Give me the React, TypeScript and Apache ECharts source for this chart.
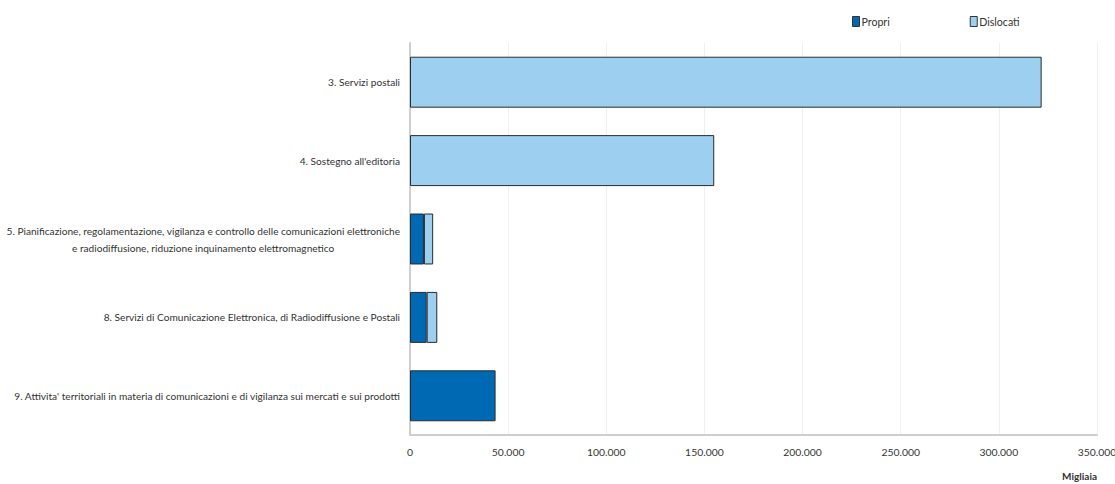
import React, { useEffect, useRef } from "react";
import * as echarts from "echarts";

const categories = [
  "3. Servizi postali",
  "4. Sostegno all'editoria",
  "5. Pianificazione, regolamentazione, vigilanza e controllo delle comunicazioni elettroniche\ne radiodiffusione, riduzione inquinamento elettromagnetico",
  "8. Servizi di Comunicazione Elettronica, di Radiodiffusione e Postali",
  "9. Attivita' territoriali in materia di comunicazioni e di vigilanza sui mercati e sui prodotti",
];
const propri = [0, 0, 7100, 8500, 43600];
const dislocati = [321800, 155000, 4700, 5400, 0];
const xTicks = { min: 0, max: 350000, interval: 50000 };

const FONT = "Lato, 'Liberation Sans', sans-serif";
const FS = 10.15;

function fmt(v: number) {
  return String(v).replace(/\B(?=(\d{3})+(?!\d))/g, ".");
}

export default function App() {
  const ref = useRef<HTMLDivElement>(null);
  useEffect(() => {
    if (!ref.current) return;
    const chart = echarts.init(ref.current, null, { renderer: "svg" });
    chart.setOption({
      animation: false,
      textStyle: { fontFamily: FONT },
      legend: {
        top: 11,
        left: 847,
        itemGap: 80,
        itemWidth: 7,
        itemHeight: 10,
        icon: "rect",
        textStyle: { fontFamily: FONT, fontSize: 10.6, color: "#333", padding: [0, 0, 0, -3] },
        data: [
          { name: "Propri", itemStyle: { borderColor: "#333", borderWidth: 1 } },
          { name: "Dislocati", itemStyle: { borderColor: "#333", borderWidth: 1 } },
        ],
      },
      grid: { left: 410, right: 18, top: 43, bottom: 49, containLabel: false, outerBoundsMode: "none" },
      xAxis: {
        type: "value",
        min: xTicks.min,
        max: xTicks.max,
        interval: xTicks.interval,
        name: "Migliaia",
        nameLocation: "end",
        nameGap: 0,
        nameTextStyle: {
          fontFamily: FONT,
          fontSize: 10,
          fontWeight: "bold",
          color: "#333",
          align: "right",
          verticalAlign: "top",
          padding: [36, 0, 0, 0],
        },
        axisLine: { show: true, lineStyle: { color: "#cfcfcf", width: 2 } },
        axisTick: { show: false },
        axisLabel: { formatter: (v: number) => fmt(v), fontFamily: FONT, fontSize: 10.4, color: "#333", margin: 12 },
        splitLine: { show: true, lineStyle: { color: "#efefef", width: 1 } },
      },
      yAxis: {
        type: "category",
        inverse: true,
        data: categories,
        axisLine: { show: true, lineStyle: { color: "#cfcfcf", width: 2 } },
        axisTick: { show: false },
        axisLabel: {
          fontFamily: FONT,
          fontSize: FS,
          color: "#333",
          margin: 10,
          align: "right",
          lineHeight: 17,
          formatter: (v: string) => {
            if (v.indexOf("\n") >= 0) {
              const [a, b] = v.split("\n");
              return "{a|" + a + "}\n{b|" + b + "}";
            }
            return v;
          },
          rich: {
            a: { fontFamily: FONT, fontSize: FS, color: "#333", align: "right", lineHeight: 17 },
            b: { fontFamily: FONT, fontSize: FS, color: "#333", align: "center", lineHeight: 17 },
          },
        },
      },
      series: [
        {
          name: "Propri",
          type: "bar",
          stack: "tot",
          barCategoryGap: "35%",
          data: propri.map((v) => (v === 0 ? "-" : v)),
          itemStyle: { color: "#0069B4", borderColor: "#2b2b2b", borderWidth: 1 },
        },
        {
          name: "Dislocati",
          type: "bar",
          stack: "tot",
          barCategoryGap: "35%",
          data: dislocati.map((v) => (v === 0 ? "-" : v)),
          itemStyle: { color: "#9DCFF0", borderColor: "#2b2b2b", borderWidth: 1 },
        },
      ],
    });
    return () => chart.dispose();
  }, []);
  return <div ref={ref} style={{ width: 1115, height: 484, position: "absolute", left: 0, top: 0 }} />;
}
